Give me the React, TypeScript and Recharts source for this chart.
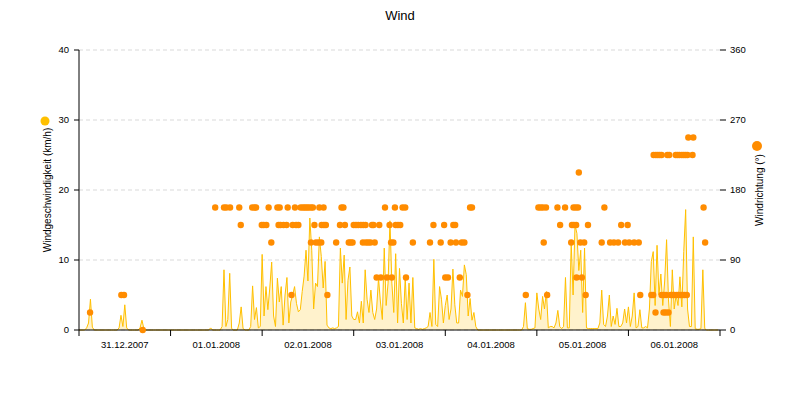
import { ComposedChart, Area, Scatter, XAxis, YAxis, CartesianGrid } from 'recharts'

const dayLabels = ['31.12.2007', '01.01.2008', '02.01.2008', '03.01.2008', '04.01.2008', '05.01.2008', '06.01.2008']
const dayTicks = [0, 24, 48, 72, 96, 120, 144, 168]
const speedTicks = [0, 10, 20, 30, 40]
const directionTicks = [0, 90, 180, 270, 360]

// wind speed in km/h, one reading every 30 minutes, one array per day
const speed3112 = [0, 0, 0, 0, 0.3, 1.0, 4.4, 0.4, 0, 0, 0, 0, 0, 0, 0, 0, 0, 0, 0, 0, 0, 0.3, 2.1, 0.5, 3.6, 0.3, 0, 0, 0, 0, 0, 0, 0.3, 1.4, 0.2, 0, 0, 0, 0, 0, 0, 0, 0, 0, 0, 0, 0, 0]
const speed0101 = [0, 0, 0, 0, 0, 0, 0, 0, 0, 0, 0, 0, 0, 0, 0, 0, 0, 0, 0, 0, 0, 0.3, 0, 0, 0, 0, 0, 0.5, 8.6, 0.5, 1.5, 8.1, 0.2, 0, 0, 0, 1.0, 3.3, 0.2, 0, 0, 0, 0.5, 6.3, 1.5, 3.2, 0.3, 0.5]
const speed0201 = [10.8, 2.0, 6.2, 2.9, 6.0, 9.7, 2.0, 0.5, 7.4, 4.0, 6.2, 0.7, 5.0, 7.5, 1.0, 4.0, 5.0, 6.2, 3.8, 2.6, 2.9, 5.5, 7.7, 11.4, 7.0, 16.0, 11.4, 3.0, 6.7, 6.2, 13.3, 10.5, 6.0, 9.8, 0.7, 0.3, 0.2, 0.3, 0.2, 0.3, 0.5, 11.7, 6.7, 10.7, 1.5, 7.1, 9.0, 2.0]
const speed0301 = [1.5, 1.5, 2.6, 1.0, 4.1, 1.0, 8.6, 4.4, 2.5, 5.7, 2.5, 1.5, 3.0, 7.4, 4.0, 1.5, 11.7, 3.5, 6.7, 15.6, 6.7, 2.5, 10.9, 1.0, 8.8, 3.8, 1.0, 7.5, 1.5, 6.7, 1.0, 7.5, 0.3, 0.2, 0.1, 0.2, 0.1, 0.2, 0.3, 0.5, 2.5, 0.5, 10.1, 0.8, 0.5, 6.2, 4.4, 1.0]
const speed0401 = [3.5, 5.0, 1.5, 3.0, 8.7, 3.6, 1.0, 1.0, 5.7, 4.8, 9.3, 7.9, 2.0, 4.5, 1.4, 2.5, 0.5, 0, 0, 0, 0, 0, 0, 0, 0, 0, 0, 0, 0, 0, 0, 0, 0, 0, 0, 0, 0, 0, 0, 0, 0, 0.5, 3.9, 0.2, 0.1, 0.1, 0.2, 0.3]
const speed0501 = [5.3, 3.0, 1.5, 4.8, 3.0, 5.5, 0.3, 0.5, 0.5, 0.3, 1.0, 2.8, 0.5, 0.2, 0.5, 7.5, 0.3, 0.3, 12.5, 5.0, 15.0, 13.8, 8.5, 11.4, 2.5, 11.7, 0.3, 0.2, 0.2, 0.2, 0.2, 0.2, 0.2, 1.0, 5.7, 0.8, 0.5, 2.0, 5.0, 0.5, 2.0, 0.8, 3.1, 0.5, 0.5, 1.0, 3.0, 1.0]
const speed0601 = [3.3, 0.5, 2.0, 5.3, 0.3, 0.5, 2.9, 0.3, 0.3, 0.5, 0.3, 3.0, 9.8, 11.2, 3.5, 12.1, 5.0, 8.0, 3.5, 7.0, 12.9, 4.3, 0.5, 8.6, 3.0, 5.0, 3.5, 7.6, 3.3, 11.2, 17.2, 3.0, 0.5, 0.5, 13.3, 0.2, 0.1, 0.1, 0.2, 8.6, 0.2, 0, 0, 0, 0, 0, 0, 0]

const speedValues = [...speed3112, ...speed0101, ...speed0201, ...speed0301, ...speed0401, ...speed0501, ...speed0601]
const speedData = speedValues.map((v, i) => ({ t: i * 0.5, speed: v }))

// wind direction readings: hours since 31.12.2007 00:00, degrees
const directionHours = [
  2.9, 11.1, 11.8, 16.7, 35.7, 38.0, 38.6, 39.6, 42.0, 42.4, 45.4, 46.0, 46.4, 47.9, 48.4, 49.1, 49.7, 50.4,
  52.0, 52.3, 52.6, 52.8, 53.6, 54.4, 54.7, 55.7, 56.0, 56.6, 56.9, 57.5, 58.1, 58.7, 59.2, 59.7, 60.2, 60.8,
  60.8, 61.3, 61.7, 62.1, 62.8, 63.0, 63.5, 63.6, 64.1, 64.2, 64.7, 65.1, 67.4, 68.4, 68.8, 69.3, 69.7, 70.7,
  71.2, 71.7, 72.0, 72.6, 73.2, 73.9, 74.4, 74.5, 75.1, 75.2, 75.8, 76.4, 76.8, 77.2, 77.5, 78.0, 78.7, 79.1,
  80.2, 80.7, 81.4, 81.8, 82.0, 82.4, 82.8, 83.0, 83.6, 84.2, 84.8, 85.5, 85.7, 87.5, 92.0, 92.9, 94.8, 95.7,
  96.0, 96.7, 97.4, 98.1, 98.6, 98.8, 99.8, 100.3, 101.0, 101.8, 102.5, 103.0, 117.1, 120.4, 121.0, 121.6,
  121.8, 122.4, 122.7, 125.4, 126.1, 127.4, 129.0, 129.2, 129.6, 129.7, 130.2, 130.3, 130.4, 130.8, 131.0,
  131.4, 131.8, 132.4, 132.8, 133.4, 137.0, 137.7, 139.2, 140.2, 141.3, 142.1, 143.1, 143.8, 144.2, 145.5,
  146.7, 147.1, 150.0, 150.5, 150.6, 151.1, 151.2, 151.7, 152.2, 152.7, 152.7, 153.2, 153.3, 153.8, 153.9,
  154.2, 154.5, 154.7, 155.1, 155.6, 156.1, 156.4, 156.7, 156.9, 157.2, 157.4, 157.7, 158.0, 158.2, 158.5,
  158.7, 159.0, 159.3, 159.5, 159.7, 160.8, 161.0, 163.7, 164.1,
]
const directionDegrees = [
  22.5, 45, 45, 0, 157.5, 157.5, 157.5, 157.5, 157.5, 135, 157.5, 157.5, 157.5, 135, 135, 135, 157.5, 112.5,
  157.5, 135, 157.5, 135, 135, 135, 157.5, 45, 135, 157.5, 135, 135, 157.5, 157.5, 157.5, 157.5, 157.5, 157.5,
  112.5, 157.5, 135, 112.5, 112.5, 157.5, 112.5, 135, 157.5, 135, 135, 45, 112.5, 135, 157.5, 157.5, 135, 112.5,
  112.5, 112.5, 135, 135, 135, 135, 112.5, 135, 135, 112.5, 112.5, 112.5, 135, 135, 112.5, 67.5, 135, 67.5,
  157.5, 67.5, 135, 112.5, 67.5, 112.5, 157.5, 135, 135, 135, 157.5, 157.5, 67.5, 112.5, 112.5, 135, 112.5, 135,
  67.5, 67.5, 112.5, 135, 135, 112.5, 67.5, 112.5, 112.5, 45, 157.5, 157.5, 45, 157.5, 157.5, 157.5,
  112.5, 157.5, 45, 157.5, 135, 157.5, 112.5, 135, 157.5, 135, 157.5, 135, 67.5, 157.5, 202.5,
  112.5, 67.5, 112.5, 45, 135, 112.5, 157.5, 112.5, 112.5, 112.5, 135, 112.5, 135, 112.5, 112.5,
  112.5, 45, 45, 45, 225, 22.5, 225, 225, 225, 225, 45, 22.5, 45, 22.5, 45,
  225, 22.5, 225, 45, 45, 45, 225, 45, 225, 45, 225, 45, 225, 45, 225,
  45, 225, 45, 225, 247.5, 225, 247.5, 157.5, 112.5,
]
const directionData = directionHours.map((t, i) => ({ t, dir: directionDegrees[i] }))

const LINE_COLOR = '#FFC000'
const DOT_COLOR = '#FF8C00'
const FONT = "'Liberation Sans', Arial, sans-serif"
const DAY_WIDTH = 641 / 7

function DayTick(props: any) {
  const { x, y, index } = props
  if (index >= dayLabels.length) return <g />
  return (
    <text x={x + DAY_WIDTH / 2} y={y + 3} dy="0.71em" textAnchor="middle" fontSize={9.5} fill="#000" fontFamily={FONT}>
      {dayLabels[index]}
    </text>
  )
}

function SpeedLabel(props: any) {
  const { viewBox } = props
  const cx = viewBox.x + 8
  const cy = viewBox.y + viewBox.height / 2
  return (
    <g>
      <circle cx={viewBox.x + 6} cy={viewBox.y + 71} r={4.5} fill={LINE_COLOR} />
      <text x={cx} y={cy} transform={`rotate(-90 ${cx} ${cy})`} textAnchor="middle" dominantBaseline="central" fontSize={10} fill="#000" fontFamily={FONT}>
        Windgeschwindigkeit (km/h)
      </text>
    </g>
  )
}

function DirectionLabel(props: any) {
  const { viewBox } = props
  const cx = viewBox.x + 39
  const cy = viewBox.y + viewBox.height / 2
  return (
    <g>
      <circle cx={viewBox.x + 37} cy={viewBox.y + 96} r={5} fill={DOT_COLOR} />
      <text x={cx} y={cy} transform={`rotate(-90 ${cx} ${cy})`} textAnchor="middle" dominantBaseline="central" fontSize={10} fill="#000" fontFamily={FONT}>
        Windrichtung (°)
      </text>
    </g>
  )
}

export default function App() {
  return (
    <div style={{ position: 'absolute', left: 0, top: 0, width: 800, height: 400, background: '#fff', fontFamily: FONT }}>
      <div style={{ position: 'absolute', top: 8, width: 800, textAlign: 'center', fontSize: 13, color: '#000' }}>Wind</div>
      <ComposedChart width={800} height={400} data={speedData} margin={{ top: 50, right: 40, bottom: 40, left: 39 }}>
        <CartesianGrid yAxisId="left" vertical={false} stroke="#d9d9d9" strokeDasharray="4 3" />
        <XAxis
          type="number"
          dataKey="t"
          domain={[0, 168]}
          ticks={dayTicks}
          interval={0}
          height={30}
          axisLine={{ stroke: '#000' }}
          tickLine={{ stroke: '#000' }}
          tickSize={6}
          tick={(p: any) => <DayTick {...p} />}
        />
        <YAxis
          yAxisId="left"
          domain={[0, 40]}
          ticks={speedTicks}
          interval={0}
          width={40}
          axisLine={{ stroke: '#000' }}
          tickLine={{ stroke: '#000' }}
          tickSize={5}
          tickMargin={5}
          tick={{ fontSize: 9.5, fill: '#000' }}
          label={<SpeedLabel />}
        />
        <YAxis
          yAxisId="right"
          orientation="right"
          domain={[0, 360]}
          ticks={directionTicks}
          interval={0}
          width={40}
          axisLine={false}
          tickLine={{ stroke: '#000' }}
          tickSize={6}
          tickMargin={4}
          tick={{ fontSize: 9.5, fill: '#000' }}
          label={<DirectionLabel />}
        />
        <Area
          yAxisId="left"
          type="linear"
          dataKey="speed"
          stroke={LINE_COLOR}
          strokeWidth={1}
          fill={LINE_COLOR}
          fillOpacity={0.2}
          dot={false}
          activeDot={false}
          isAnimationActive={false}
        />
        <Scatter
          yAxisId="right"
          data={directionData}
          dataKey="dir"
          fill={DOT_COLOR}
          shape={(p: any) => <circle cx={p.cx} cy={p.cy} r={3.2} fill={DOT_COLOR} />}
          isAnimationActive={false}
        />
      </ComposedChart>
    </div>
  )
}
